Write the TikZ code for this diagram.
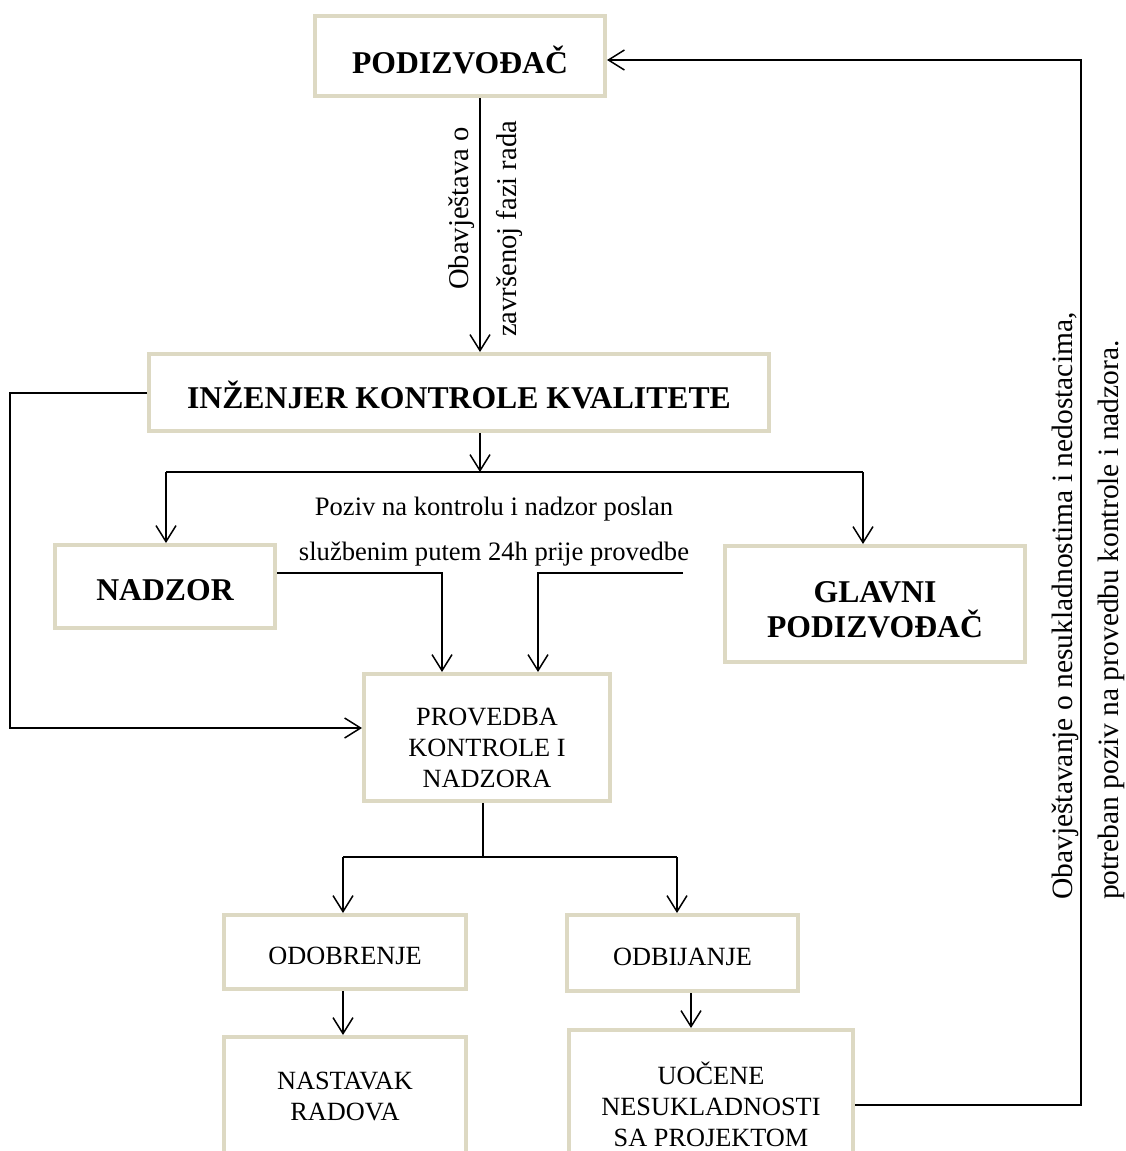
\documentclass[tikz,border=0pt]{standalone}
\usepackage{fontspec}
\setmainfont{Liberation Serif}
\usetikzlibrary{arrows.meta}
\definecolor{boxline}{RGB}{221,217,195}
\begin{document}
\begin{tikzpicture}[x=1pt,y=-1pt,
  box/.style={draw=boxline, line width=4pt, fill=white, inner sep=0pt},
  hb/.style={font=\fontsize{31.7}{35}\selectfont\bfseries, align=center, inner sep=0pt},
  rb/.style={font=\fontsize{26.3}{31}\selectfont, align=center, inner sep=0pt},
  ln/.style={line width=1.5pt},
  conn/.style={line width=1.5pt, -{Straight Barb[length=16pt,width=20pt,line width=1.5pt]}},
  lbl/.style={font=\fontsize{26.6}{30}\selectfont, inner sep=0pt},
  rot/.style={font=\fontsize{29.5}{30}\selectfont, inner sep=0pt, rotate=90, anchor=base west}]
\fill[white] (0,0) rectangle (1126,1151);
\useasboundingbox (0,0) rectangle (1126,1151);

% boxes
\node[box,minimum width=290pt,minimum height=80pt] (podiz) at (460,56) {};
\node[box,minimum width=620pt,minimum height=77pt] (inz) at (459,392.5) {};
\node[box,minimum width=220pt,minimum height=83pt] (nadzor) at (165,586.5) {};
\node[box,minimum width=300pt,minimum height=116pt] (glavni) at (875,604) {};
\node[box,minimum width=246pt,minimum height=127pt] (provedba) at (487,737.5) {};
\node[box,minimum width=242pt,minimum height=74pt] (odob) at (345,952) {};
\node[box,minimum width=231pt,minimum height=76pt] (odbi) at (682.5,953) {};
\node[box,minimum width=242pt,minimum height=118pt] (nast) at (345,1096) {};
\node[box,minimum width=284pt,minimum height=148pt] (uoc) at (711,1104) {};

% box texts
\node[hb,anchor=base] (podizT) at (460,73) {PODIZVOĐAČ};
\node[hb,anchor=base] (inzT) at (459,408) {INŽENJER KONTROLE KVALITETE};
\node[hb,anchor=base] (nadzorT) at (165,600) {NADZOR};
\node[hb] (glavniT) at (875,610) {GLAVNI\\PODIZVOĐAČ};
\node[rb] (provedbaT) at (487,747.5) {PROVEDBA\\KONTROLE I\\NADZORA};
\node[rb] (odobT) at (345,956) {ODOBRENJE};
\node[rb] (odbiT) at (682.5,957) {ODBIJANJE};
\node[rb] (nastT) at (345,1096) {NASTAVAK\\RADOVA};
\node[rb] (uocT) at (711,1104) {UOČENE\\NESUKLADNOSTI\\SA PROJEKTOM};

% top connector
\coordinate (split) at (480,472);
\draw[conn] (podiz.south -| split) -- (inz.north -| split);
\draw[conn] (inz.south -| split) -- (split);
\coordinate (sl) at (166,472);
\coordinate (sr) at (863,472);
\draw[ln] (sl) -- (sr);
\draw[conn] (sl) -- (nadzor.north -| sl);
\draw[conn] (sr) -- (glavni.north -| sr);

% labels
\node[rot,font=\fontsize{28.6}{30}\selectfont] (r1) at (468,290) {Obavještava o};
\node[rot,font=\fontsize{28.6}{30}\selectfont] (r2) at (516,337) {završenoj fazi rada};
\node[lbl,anchor=base] (t1) at (494,515) {Poziv na kontrolu i nadzor poslan};
\node[lbl,anchor=base] (t2) at (494,560) {službenim putem 24h prije provedbe};

% to provedba
\coordinate (n1) at (442,573);
\draw[conn] (nadzor.east |- n1) -- (n1) -- (provedba.north -| n1);
\coordinate (g0) at (683,573);
\coordinate (g1) at (538,573);
\draw[conn] (g0) -- (g1) -- (provedba.north -| g1);
\coordinate (l1) at (10,393);
\coordinate (l2) at (10,728);
\draw[conn] (inz.west |- l1) -- (l1) -- (l2) -- (provedba.west |- l2);

% below provedba
\coordinate (p1) at (483,857);
\coordinate (pl) at (343,857);
\coordinate (pr) at (677,857);
\draw[ln] (provedba.south -| p1) -- (p1);
\draw[ln] (pl) -- (pr);
\draw[conn] (pl) -- (odob.north -| pl);
\draw[conn] (pr) -- (odbi.north -| pr);
\coordinate (o1) at (343,0);
\draw[conn] (odob.south -| o1) -- (nast.north -| o1);
\coordinate (o2) at (691,0);
\draw[conn] (odbi.south -| o2) -- (uoc.north -| o2);

% feedback
\coordinate (f1) at (1081,1105);
\coordinate (f2) at (1081,60);
\draw[conn] (uoc.east |- f1) -- (f1) -- (f2) -- (podiz.east |- f2);
\node[rot] (r3) at (1072,900) {Obavještavanje o nesukladnostima i nedostacima,};
\node[rot] (r4) at (1118,900) {potreban poziv na provedbu kontrole i nadzora.};
\end{tikzpicture}
\end{document}
